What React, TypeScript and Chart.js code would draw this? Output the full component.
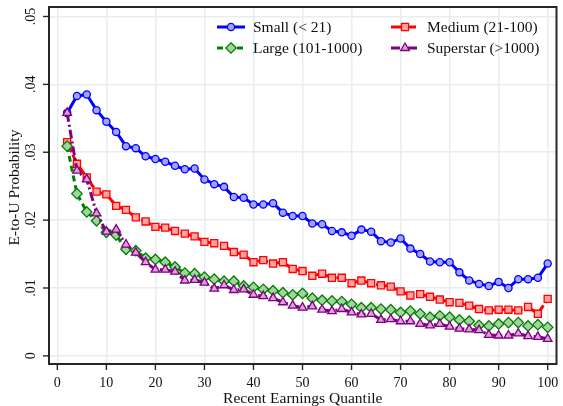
import React, { useEffect, useRef } from 'react';
import { Chart, registerables } from 'chart.js';

Chart.register(...registerables);

const quantiles = [2, 4, 6, 8, 10, 12, 14, 16, 18, 20, 22, 24, 26, 28, 30, 32, 34, 36, 38, 40, 42, 44, 46, 48, 50, 52, 54, 56, 58, 60, 62, 64, 66, 68, 70, 72, 74, 76, 78, 80, 82, 84, 86, 88, 90, 92, 94, 96, 98, 100];

const small = [0.0358, 0.0383, 0.0385, 0.0362, 0.0345, 0.0330, 0.0309, 0.0306, 0.0294, 0.0290, 0.0286, 0.0280, 0.0275, 0.0276, 0.0260, 0.0253, 0.0249, 0.0234, 0.0233, 0.0223, 0.0223, 0.0225, 0.0211, 0.0206, 0.0206, 0.0195, 0.0194, 0.0184, 0.0182, 0.0177, 0.0186, 0.0183, 0.0169, 0.0167, 0.0173, 0.0158, 0.0150, 0.0139, 0.0138, 0.0138, 0.0123, 0.0111, 0.0106, 0.0103, 0.0109, 0.0100, 0.0113, 0.0113, 0.0115, 0.0136];

const medium = [0.0315, 0.0283, 0.0263, 0.0242, 0.0238, 0.0221, 0.0215, 0.0204, 0.0198, 0.0190, 0.0189, 0.0184, 0.0180, 0.0176, 0.0168, 0.0166, 0.0162, 0.0153, 0.0149, 0.0138, 0.0141, 0.0136, 0.0138, 0.0128, 0.0125, 0.0118, 0.0121, 0.0115, 0.0115, 0.0107, 0.0111, 0.0107, 0.0104, 0.0102, 0.0095, 0.0089, 0.0091, 0.0087, 0.0083, 0.0079, 0.0078, 0.0074, 0.0069, 0.0067, 0.0068, 0.0068, 0.0067, 0.0072, 0.0062, 0.0084];

const large = [0.0309, 0.0239, 0.0212, 0.0199, 0.0182, 0.0178, 0.0157, 0.0155, 0.0144, 0.0142, 0.0138, 0.0131, 0.0122, 0.0121, 0.0116, 0.0113, 0.0110, 0.0110, 0.0103, 0.0101, 0.0098, 0.0096, 0.0093, 0.0090, 0.0092, 0.0085, 0.0082, 0.0081, 0.0080, 0.0076, 0.0071, 0.0071, 0.0069, 0.0068, 0.0064, 0.0066, 0.0062, 0.0057, 0.0059, 0.0057, 0.0053, 0.0051, 0.0045, 0.0044, 0.0047, 0.0049, 0.0049, 0.0044, 0.0046, 0.0042];

const superstar = [0.0358, 0.0273, 0.0260, 0.0210, 0.0183, 0.0186, 0.0164, 0.0152, 0.0138, 0.0127, 0.0127, 0.0124, 0.0111, 0.0112, 0.0108, 0.0099, 0.0104, 0.0097, 0.0098, 0.0090, 0.0088, 0.0085, 0.0079, 0.0074, 0.0071, 0.0073, 0.0068, 0.0066, 0.0069, 0.0064, 0.0061, 0.0062, 0.0053, 0.0054, 0.0051, 0.0051, 0.0047, 0.0045, 0.0047, 0.0043, 0.0040, 0.0039, 0.0038, 0.0031, 0.0030, 0.0030, 0.0033, 0.0029, 0.0028, 0.0025];

const xTicks = [0, 10, 20, 30, 40, 50, 60, 70, 80, 90, 100];
const xTickLabels = ['0', '10', '20', '30', '40', '50', '60', '70', '80', '90', '100'];
const yTicks = [0, 0.01, 0.02, 0.03, 0.04, 0.05];
const yTickLabels = ['0', '.01', '.02', '.03', '.04', '.05'];

const seriesNames = ['Small (< 21)', 'Medium (21-100)', 'Large (101-1000)', 'Superstar (>1000)'];
const xTitle = 'Recent Earnings Quantile';
const yTitle = 'E-to-U Probability';

const lineColors = ['#0000ff', '#ff0000', '#008000', '#800080'];
const fillColors = ['#a3a3ff', '#ffa3a3', '#a3d4a0', '#d9a3d9'];
const pointStyles = ['circle', 'rect', 'rectRot', 'triangle'];
const pointRadii = [3.6, 5, 5.2, 5];
const dashes: number[][] = [[], [11, 3], [6, 4], [9, 3, 2, 3]];

const SERIF = '"Liberation Serif", "DejaVu Serif", serif';

function drawMarker(ctx: CanvasRenderingContext2D, style: string, x: number, y: number, r: number) {
  ctx.beginPath();
  if (style === 'circle') {
    ctx.arc(x, y, r, 0, Math.PI * 2);
  } else if (style === 'rect') {
    const s = Math.SQRT1_2 * r;
    ctx.rect(x - s, y - s, 2 * s, 2 * s);
  } else if (style === 'rectRot') {
    ctx.moveTo(x, y - r);
    ctx.lineTo(x + r, y);
    ctx.lineTo(x, y + r);
    ctx.lineTo(x - r, y);
    ctx.closePath();
  } else {
    for (let k = 0; k < 3; k++) {
      const a = -Math.PI / 2 + (k * 2 * Math.PI) / 3;
      const px = x + Math.cos(a) * r;
      const py = y + Math.sin(a) * r;
      if (k === 0) ctx.moveTo(px, py);
      else ctx.lineTo(px, py);
    }
    ctx.closePath();
  }
  ctx.fill();
  ctx.stroke();
}

const overlayPlugin = {
  id: 'overlay',
  afterDraw(chart: any) {
    const { ctx, chartArea: a, scales } = chart;
    const xs = scales.x;
    const ys = scales.y;
    ctx.save();

    // frame
    ctx.setLineDash([]);
    ctx.strokeStyle = '#262626';
    ctx.lineWidth = 2;
    ctx.strokeRect(a.left, a.top, a.right - a.left, a.bottom - a.top);

    // tick marks
    ctx.lineWidth = 1.4;
    xTicks.forEach((v) => {
      const px = xs.getPixelForValue(v);
      ctx.beginPath();
      ctx.moveTo(px, a.bottom);
      ctx.lineTo(px, a.bottom + 6);
      ctx.stroke();
    });
    yTicks.forEach((v) => {
      const py = ys.getPixelForValue(v);
      ctx.beginPath();
      ctx.moveTo(a.left - 6, py);
      ctx.lineTo(a.left, py);
      ctx.stroke();
    });

    // tick labels
    ctx.fillStyle = '#111';
    ctx.font = '14px ' + SERIF;
    ctx.textAlign = 'center';
    ctx.textBaseline = 'middle';
    xTicks.forEach((v, i) => {
      ctx.fillText(xTickLabels[i], xs.getPixelForValue(v), a.bottom + 19);
    });
    yTicks.forEach((v, i) => {
      const py = ys.getPixelForValue(v);
      ctx.save();
      ctx.translate(a.left - 18, py);
      ctx.rotate(-Math.PI / 2);
      ctx.fillText(yTickLabels[i], 0, 0);
      ctx.restore();
    });

    // axis titles
    ctx.font = '15.5px ' + SERIF;
    ctx.fillText(xTitle, (a.left + a.right) / 2, a.bottom + 35);
    ctx.save();
    ctx.translate(15, (a.top + a.bottom) / 2 + 2);
    ctx.rotate(-Math.PI / 2);
    ctx.fillText(yTitle, 0, 0);
    ctx.restore();

    // legend
    const cols = [217, 391];
    const rows = [27, 48];
    ctx.font = '15.5px ' + SERIF;
    ctx.textAlign = 'left';
    seriesNames.forEach((name, i) => {
      const cx = cols[i % 2];
      const cy = rows[Math.floor(i / 2)];
      ctx.strokeStyle = lineColors[i];
      ctx.lineWidth = 3;
      ctx.setLineDash(dashes[i]);
      ctx.beginPath();
      ctx.moveTo(cx, cy);
      ctx.lineTo(cx + 28, cy);
      ctx.stroke();
      ctx.setLineDash([]);
      ctx.lineWidth = 1.3;
      ctx.fillStyle = fillColors[i];
      drawMarker(ctx, pointStyles[i], cx + 14, cy, pointRadii[i]);
      ctx.fillStyle = '#111';
      ctx.fillText(name, cx + 36, cy + 1);
    });

    ctx.restore();
  },
};

export default function App() {
  const canvasRef = useRef<HTMLCanvasElement | null>(null);

  useEffect(() => {
    const canvas = canvasRef.current;
    if (!canvas) return;
    const seriesData = [small, medium, large, superstar];
    const datasets = seriesData.map((arr, i) => ({
      label: seriesNames[i],
      data: quantiles.map((q, j) => ({ x: q, y: arr[j] })),
      borderColor: lineColors[i],
      backgroundColor: fillColors[i],
      borderWidth: 3,
      borderDash: dashes[i],
      pointStyle: pointStyles[i],
      pointRadius: pointRadii[i],
      pointBorderWidth: 1.3,
      pointBorderColor: lineColors[i],
      pointBackgroundColor: fillColors[i],
      tension: 0,
      fill: false,
      order: 3 - i,
    }));

    const chart = new Chart(canvas, {
      type: 'line',
      data: { datasets },
      options: {
        animation: false,
        responsive: false,
        devicePixelRatio: 1,
        layout: { padding: { left: 0, top: 7, right: 4, bottom: 0 } },
        plugins: {
          legend: { display: false },
          tooltip: { enabled: false },
          title: { display: false },
        },
        scales: {
          x: {
            type: 'linear',
            min: -1.7,
            max: 101.8,
            afterBuildTicks: (s: any) => {
              s.ticks = xTicks.map((v) => ({ value: v }));
            },
            afterFit: (s: any) => {
              s.height = 42;
            },
            ticks: { display: false },
            grid: { color: '#e6eef0', lineWidth: 1.5, drawTicks: false },
            border: { display: false },
          },
          y: {
            type: 'linear',
            min: -0.0012,
            max: 0.0514,
            afterBuildTicks: (s: any) => {
              s.ticks = yTicks.map((v) => ({ value: v }));
            },
            afterFit: (s: any) => {
              s.width = 49;
            },
            ticks: { display: false },
            grid: { color: '#e6eef0', lineWidth: 1.5, drawTicks: false },
            border: { display: false },
          },
        },
      },
      plugins: [overlayPlugin],
    } as any);

    return () => {
      chart.destroy();
    };
  }, []);

  return (
    <div style={{ position: 'fixed', left: 0, top: 0, width: 563, height: 406, background: '#fff' }}>
      <canvas ref={canvasRef} width={563} height={406} style={{ display: 'block' }} />
    </div>
  );
}
